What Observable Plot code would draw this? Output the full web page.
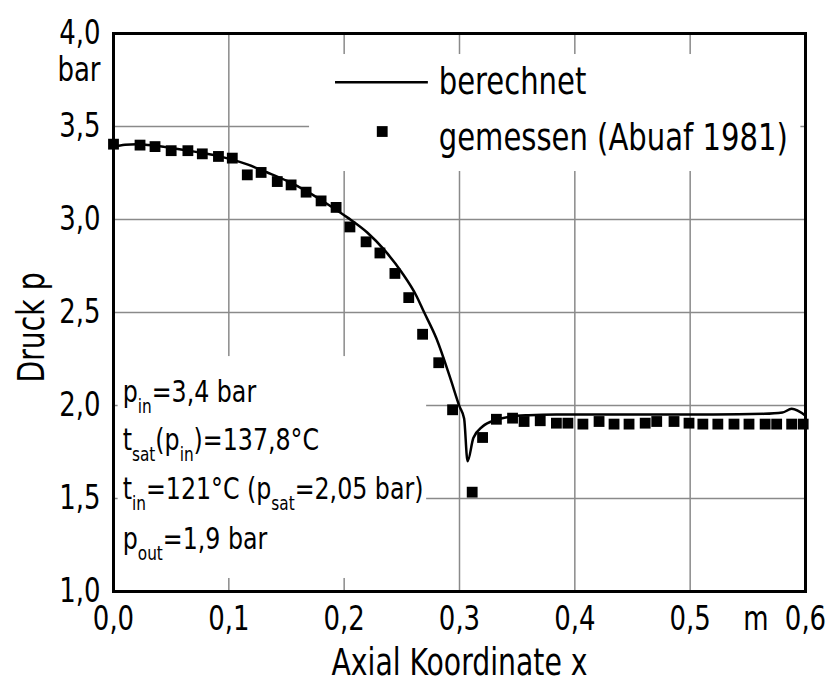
<!DOCTYPE html>
<html>
<head>
<meta charset="utf-8">
<script src="https://cdn.jsdelivr.net/npm/d3@7"></script>
<script src="https://cdn.jsdelivr.net/npm/@observablehq/plot@0.6"></script>
<style>
  html, body { margin: 0; padding: 0; background: #fff; }
  #chart svg { display: block; font-stretch: condensed; }
</style>
</head>
<body>
<div id="chart"></div>
<script>
// ---- data ----
const calcX = [0, 0.01, 0.02, 0.035, 0.05, 0.07, 0.09, 0.103, 0.116, 0.133, 0.151, 0.168, 0.185, 0.203, 0.22, 0.235, 0.25, 0.263, 0.269, 0.280, 0.292, 0.300, 0.304, 0.307, 0.312, 0.320, 0.332, 0.344, 0.36, 0.384, 0.45, 0.52, 0.564, 0.580, 0.588, 0.600];
const calcP = [3.392, 3.402, 3.405, 3.398, 3.385, 3.365, 3.342, 3.322, 3.296, 3.254, 3.206, 3.150, 3.085, 3.010, 2.930, 2.835, 2.715, 2.585, 2.505, 2.36, 2.147, 1.995, 1.93, 1.70, 1.825, 1.887, 1.923, 1.94, 1.948, 1.952, 1.952, 1.952, 1.955, 1.962, 1.982, 1.945];

const measX = [0.000, 0.023, 0.036, 0.050, 0.0645, 0.077, 0.091, 0.103, 0.116, 0.128, 0.142, 0.154, 0.167, 0.180, 0.193, 0.205, 0.219, 0.231, 0.244, 0.256, 0.268, 0.282, 0.294, 0.311, 0.320, 0.332, 0.346, 0.356, 0.370, 0.384, 0.394, 0.407, 0.421, 0.434, 0.447, 0.461, 0.471, 0.486, 0.499, 0.511, 0.524, 0.538, 0.551, 0.565, 0.575, 0.588, 0.598];
const measP = [3.405, 3.400, 3.392, 3.370, 3.370, 3.353, 3.339, 3.330, 3.240, 3.253, 3.204, 3.186, 3.147, 3.100, 3.065, 2.960, 2.880, 2.820, 2.710, 2.580, 2.383, 2.230, 1.977, 1.534, 1.828, 1.926, 1.932, 1.914, 1.918, 1.905, 1.905, 1.900, 1.914, 1.900, 1.900, 1.905, 1.914, 1.914, 1.905, 1.900, 1.900, 1.900, 1.900, 1.900, 1.900, 1.900, 1.900];

const xTicks = [0, 0.1, 0.2, 0.3, 0.4, 0.5, 0.6];
const yTicks = [1.0, 1.5, 2.0, 2.5, 3.0, 3.5, 4.0];
const legendLabels = ["berechnet", "gemessen (Abuaf 1981)"];
const notes = ["p_{in}=3,4 bar", "t_{sat}(p_{in})=137,8°C", "t_{in}=121°C (p_{sat}=2,05 bar)", "p_{out}=1,9 bar"];
const xTitle = "Axial Koordinate x";
const yTitle = "Druck p";
const xUnit = "m";
const yUnit = "bar";

// ---- layout ----
const FONT = '"DejaVu Sans Condensed", "DejaVu Sans", sans-serif';
const NARROW = 0.85; // horizontal squeeze to mimic the narrow DIN lettering
const fmt = d => d3.format(".1f")(d).replace(".", ",");
const noteRows = notes.map((t, i) => ({t, y: [2.07, 1.812, 1.548, 1.28][i]}));
const masks = [
  {x1: 0.17, x2: 0.596, y1: 3.258, y2: 3.887},
  {x1: 0.004, x2: 0.2715, y1: 1.07, y2: 2.263}
];

const plot = Plot.plot({
  width: 829,
  height: 686,
  marginLeft: 113,
  marginRight: 24,
  marginTop: 33,
  marginBottom: 95,
  style: {fontFamily: FONT, background: "#fff", color: "#000"},
  x: {domain: [0, 0.6]},
  y: {domain: [1.0, 4.0]},
  marks: [
    Plot.gridX(xTicks, {stroke: "#8a8a8a", strokeOpacity: 1, strokeWidth: 1.5}),
    Plot.gridY(yTicks, {stroke: "#8a8a8a", strokeOpacity: 1, strokeWidth: 1.5}),
    Plot.rect(masks, {x1: "x1", x2: "x2", y1: "y1", y2: "y2", fill: "#fff"}),
    Plot.axisX(xTicks, {tickSize: 0, tickPadding: 14, tickFormat: fmt, fontSize: 34, label: null}),
    Plot.axisY(yTicks, {tickSize: 0, tickPadding: 13, tickFormat: fmt, fontSize: 34, label: null}),
    Plot.text([yUnit], {frameAnchor: "top-left", textAnchor: "end", dx: -13, dy: 37, fontSize: 34, lineAnchor: "middle"}),
    Plot.text([xUnit], {x: () => 0.557, frameAnchor: "bottom", lineAnchor: "top", dy: 14, fontSize: 34}),
    Plot.text([xTitle], {frameAnchor: "bottom", textAnchor: "middle", dy: 72, fontSize: 37, lineAnchor: "middle"}),
    Plot.text([yTitle], {frameAnchor: "left", textAnchor: "middle", dx: -81, dy: 15, rotate: -90, fontSize: 37, lineAnchor: "middle"}),
    Plot.line(calcX.map((x, i) => ({x, p: calcP[i]})), {x: "x", y: "p", stroke: "#000", strokeWidth: 2.5, curve: "monotone-x"}),
    Plot.dot(measX.map((x, i) => ({x, p: measP[i]})), {x: "x", y: "p", symbol: "square", r: 6.1, fill: "#000", stroke: "none"}),
    // legend
    Plot.ruleY([3.738], {x1: 0.1925, x2: 0.273, stroke: "#000", strokeWidth: 2.5}),
    Plot.dot([0], {x: () => 0.233, y: () => 3.473, symbol: "square", r: 6.1, fill: "#000", stroke: "none"}),
    Plot.text(legendLabels, {x: () => 0.282, y: (d, i) => [3.738, 3.44][i], textAnchor: "start", lineAnchor: "middle", fontSize: 38}),
    // notes
    Plot.text(noteRows, {x: () => 0.008, y: "y", text: "t", textAnchor: "start", lineAnchor: "middle", fontSize: 31}),
    Plot.frame({stroke: "#000", strokeWidth: 3})
  ]
});

// subscripts: convert _{...} into lowered tspans
d3.select(plot).selectAll("text").each(function() {
  const el = d3.select(this);
  const s = this.textContent;
  if (!s.includes("_{")) return;
  el.text(null);
  const parts = s.split(/(_\{[^}]*\})/).filter(p => p.length);
  let lowered = false;
  for (const p of parts) {
    if (p.startsWith("_{")) {
      el.append("tspan").attr("font-size", "20").attr("dy", lowered ? 0 : 11).text(p.slice(2, -1));
      lowered = true;
    } else {
      el.append("tspan").attr("dy", lowered ? -11 : 0).text(p);
      lowered = false;
    }
  }
});

document.getElementById("chart").appendChild(plot);

// squeeze all lettering horizontally
d3.select(plot).selectAll("text").each(function() {
  const w = this.getComputedTextLength();
  if (w > 0) {
    this.setAttribute("textLength", (w * NARROW).toFixed(1));
    this.setAttribute("lengthAdjust", "spacingAndGlyphs");
  }
});
</script>
</body>
</html>
